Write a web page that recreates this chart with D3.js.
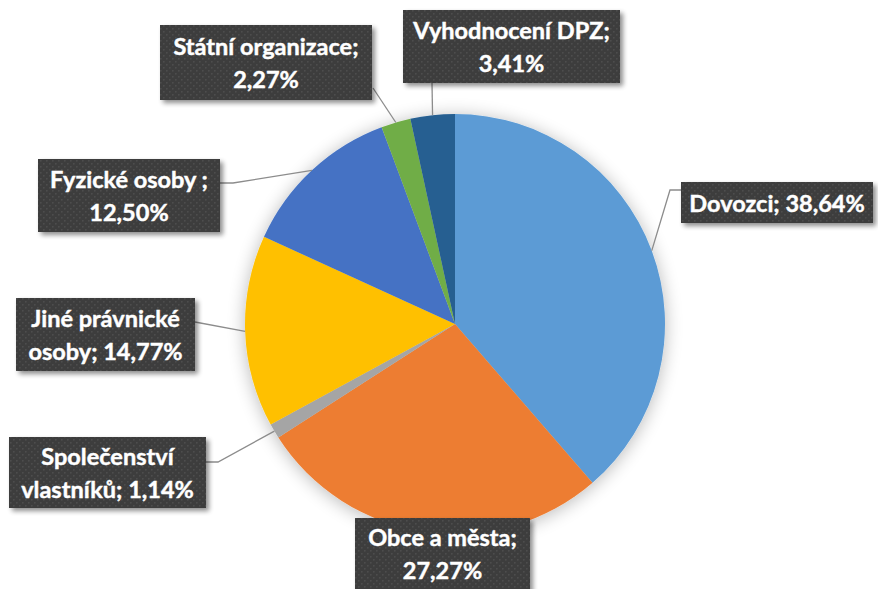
<!DOCTYPE html>
<html>
<meta charset="utf-8">
<style>
body { margin: 0; background: #fff; }
svg { display: block; }
.lbl { font-family: Lato, 'Open Sans', sans-serif; font-weight: 700; font-size: 23.5px; fill: #fff; stroke: #fff; stroke-width: 0.45px; }
.leader { fill: none; stroke: #8c8c8c; stroke-width: 1.3; }
</style>
<body>
<svg id="chart" width="878" height="589"></svg>
<script src="https://d3js.org/d3.v7.min.js"></script>
<script>

// data
var categories = ["Dovozci", "Obce a města", "Společenství vlastníků", "Jiné právnické osoby",
                  "Fyzické osoby ", "Státní organizace", "Vyhodnocení DPZ"];
var shares = [38.64, 27.27, 1.14, 14.77, 12.50, 2.27, 3.41];
var colors = ["#5B9BD5", "#ED7D31", "#A5A5A5", "#FFC000", "#4472C4", "#70AD47", "#255E91"];
var labelLines = [
  ["Dovozci; 38,64%"],
  ["Obce a města;", "27,27%"],
  ["Společenství", "vlastníků; 1,14%"],
  ["Jiné právnické", "osoby; 14,77%"],
  ["Fyzické osoby ;", "12,50%"],
  ["Státní organizace;", "2,27%"],
  ["Vyhodnocení DPZ;", "3,41%"]
];

// label box layout (as placed in the original): x, y, w, h, attach point, elbow
var boxes = [
  {x: 681, y: 182, w: 192, h: 41, at: [681, 190], elbow: [670, 190]},
  {x: 355, y: 518, w: 175, h: 76, at: null},
  {x: 9,   y: 437, w: 197, h: 71, at: [206, 462], elbow: [218, 462]},
  {x: 16,  y: 298, w: 179, h: 73, at: [195, 322], elbow: null},
  {x: 38,  y: 159, w: 182, h: 73, at: [220, 183], elbow: [233, 183]},
  {x: 160, y: 25,  w: 212, h: 75, at: [373, 88],  elbow: null},
  {x: 403, y: 10,  w: 217, h: 73, at: [432, 83],  elbow: null}
];

var svg = d3.select("#chart"),
    cx = 455, cy = 324, r = 210;

var defs = svg.append("defs");

var pieShadow = defs.append("filter").attr("id", "pieShadow")
    .attr("x", "-30%").attr("y", "-30%").attr("width", "160%").attr("height", "160%");
pieShadow.append("feGaussianBlur").attr("in", "SourceAlpha").attr("stdDeviation", 9).attr("result", "b");
pieShadow.append("feOffset").attr("in", "b").attr("dx", 0).attr("dy", 2).attr("result", "o");
pieShadow.append("feComponentTransfer").attr("in", "o").attr("result", "s")
  .append("feFuncA").attr("type", "linear").attr("slope", 0.28);
var m1 = pieShadow.append("feMerge");
m1.append("feMergeNode").attr("in", "s");
m1.append("feMergeNode").attr("in", "SourceGraphic");

var boxShadow = defs.append("filter").attr("id", "boxShadow")
    .attr("x", "-20%").attr("y", "-20%").attr("width", "140%").attr("height", "150%");
boxShadow.append("feGaussianBlur").attr("in", "SourceAlpha").attr("stdDeviation", 2.5).attr("result", "b");
boxShadow.append("feOffset").attr("in", "b").attr("dx", 3).attr("dy", 3).attr("result", "o");
boxShadow.append("feComponentTransfer").attr("in", "o").attr("result", "s")
  .append("feFuncA").attr("type", "linear").attr("slope", 0.45);
var m2 = boxShadow.append("feMerge");
m2.append("feMergeNode").attr("in", "s");
m2.append("feMergeNode").attr("in", "SourceGraphic");

// dotted texture for the label boxes
var pat = defs.append("pattern").attr("id", "dots")
    .attr("width", 6).attr("height", 6).attr("patternUnits", "userSpaceOnUse");
pat.append("rect").attr("width", 6).attr("height", 6).attr("fill", "#3d3d3d");
pat.append("rect").attr("x", 1).attr("y", 1).attr("width", 1.5).attr("height", 1.5).attr("fill", "#4e4e4e");
pat.append("rect").attr("x", 4).attr("y", 4).attr("width", 1.5).attr("height", 1.5).attr("fill", "#4e4e4e");

var pie = d3.pie().sort(null).value(function(d) { return d; });
var arcs = pie(shares);
var arc = d3.arc().innerRadius(0).outerRadius(r);

var g = svg.append("g").attr("transform", "translate(" + cx + "," + cy + ")");

g.append("g").attr("filter", "url(#pieShadow)")
  .selectAll("path")
  .data(arcs)
  .join("path")
    .attr("d", arc)
    .attr("fill", function(d, i) { return colors[i]; });

// leader lines
arcs.forEach(function(d, i) {
  var b = boxes[i];
  if (!b.at) return;
  var a = (d.startAngle + d.endAngle) / 2;
  var p0 = [cx + r * Math.sin(a), cy - r * Math.cos(a)];
  var pts = [p0];
  if (b.elbow) pts.push(b.elbow);
  pts.push(b.at);
  svg.append("path").attr("class", "leader").attr("d", d3.line()(pts));
});

// label boxes
var lh = 33;
boxes.forEach(function(b, i) {
  var lg = svg.append("g");
  lg.append("rect")
    .attr("x", b.x).attr("y", b.y).attr("width", b.w).attr("height", b.h)
    .attr("fill", "url(#dots)")
    .attr("filter", "url(#boxShadow)");
  var lines = labelLines[i];
  var mid = b.y + (i === 1 ? 35.5 : b.h / 2);
  lines.forEach(function(t, j) {
    lg.append("text")
      .attr("class", "lbl")
      .attr("x", b.x + b.w / 2)
      .attr("y", mid + (j - (lines.length - 1) / 2) * lh + 9)
      .attr("text-anchor", "middle")
      .text(t);
  });
});
</script>
</body>
</html>
